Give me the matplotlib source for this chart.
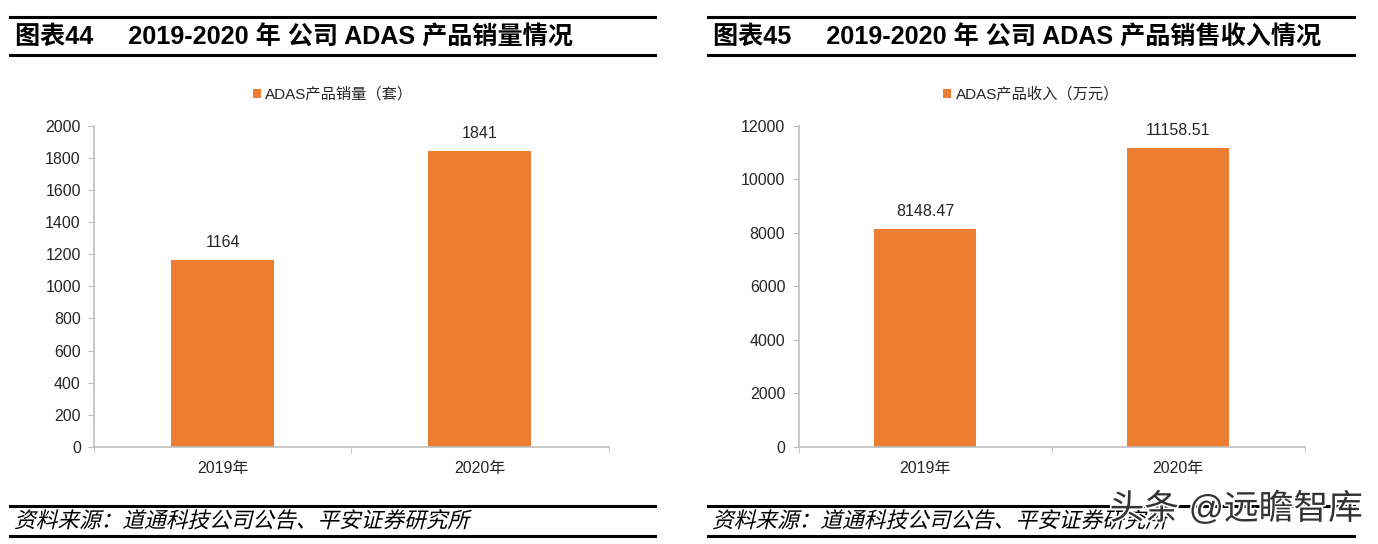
import matplotlib
matplotlib.use("Agg")
import matplotlib.pyplot as plt
import matplotlib.patheffects as pe
from matplotlib.lines import Line2D
from matplotlib.patches import Patch
from matplotlib.transforms import Affine2D

FONTS = ['Liberation Sans', 'Noto Sans CJK SC', 'DejaVu Sans']
plt.rcParams['font.family'] = FONTS

W, H = 1378, 544
ORANGE = '#ED7D31'
GREY = '#BFBFBF'
TXT = '#262626'

years = ['2019年', '2020年']
volume = [1164, 1841]
revenue = [8148.47, 11158.51]
volume_labels = ['1164', '1841']
revenue_labels = ['8148.47', '11158.51']
volume_ticks = [0, 200, 400, 600, 800, 1000, 1200, 1400, 1600, 1800, 2000]
revenue_ticks = [0, 2000, 4000, 6000, 8000, 10000, 12000]

fig = plt.figure(figsize=(W / 100, H / 100), dpi=100)


class Slant(pe.AbstractPathEffect):
    # CJK fonts have no italic, so shear the glyph outlines instead
    def draw_path(self, renderer, gc, tpath, affine, rgbFace=None):
        renderer.draw_path(gc, tpath, Affine2D().skew_deg(14, 0) + affine, rgbFace)


def hline(x0, x1, y, lw=2.2):
    fig.add_artist(Line2D([x0 / W, x1 / W], [1 - y / H, 1 - y / H], color='black', lw=lw))


def panel(left, right, rule0, rule1, title, series_name, values, labels, ticks, ymax, legend_x):
    # header and footer rules
    hline(rule0, rule1, 17)
    hline(rule0, rule1, 55)
    hline(rule0, rule1, 506)
    hline(rule0, rule1, 536)
    fig.text((rule0 + 5) / W, 1 - 37 / H, title, fontsize=18.1, fontweight='bold',
             va='center', ha='left', color='black')
    fig.text((rule0 + 4) / W, 1 - 522 / H, '资料来源：道通科技公司公告、平安证券研究所', fontsize=15.6,
             va='center', ha='left', color='black', path_effects=[Slant()])

    ax = fig.add_axes([left / W, 1 - 447 / H, (right - left) / W, (447 - 125.5) / H])
    x_pos = range(len(years))
    ax.bar(x_pos, values, width=0.4, color=ORANGE, label=series_name)
    ax.set_xlim(-0.5, 1.5)
    ax.set_ylim(0, ymax)
    ax.set_yticks(ticks)
    ax.set_xticks(x_pos)
    ax.set_xticklabels(years)
    ax.set_xticks([-0.5, 0.5, 1.5], minor=True)

    for side in ['top', 'right']:
        ax.spines[side].set_visible(False)
    for side in ['left', 'bottom']:
        ax.spines[side].set_color(GREY)
        ax.spines[side].set_linewidth(1.2)
    ax.tick_params(axis='y', length=4, color=GREY, labelsize=11.5, labelcolor=TXT, pad=5.5)
    ax.tick_params(axis='x', which='major', length=0, labelsize=11.5, labelcolor=TXT, pad=10)
    ax.tick_params(axis='x', which='minor', length=4, color=GREY)

    for i, v in enumerate(values):
        ax.annotate(labels[i], (i, v), xytext=(0, 7), textcoords='offset points',
                    ha='center', va='bottom', fontsize=11.5, color=TXT)

    ax.legend(handles=[Patch(facecolor=ORANGE, label=series_name)], loc='center',
              bbox_to_anchor=(legend_x, 1 + 31 / 321), frameon=False, fontsize=11,
              handlelength=0.5, handleheight=0.5, handletextpad=0.3, labelcolor=TXT)


panel(94, 608.5, 10, 655, '图表44     2019-2020 年 公司 ADAS 产品销量情况',
      'ADAS产品销量（套）', volume, volume_labels, volume_ticks, 2000, 0.465)
panel(798.5, 1304.5, 708, 1354, '图表45     2019-2020 年 公司 ADAS 产品销售收入情况',
      'ADAS产品收入（万元）', revenue, revenue_labels, revenue_ticks, 12000, 0.46)

# watermark over the right footer
fig.text(1363 / W, 1 - 509 / H, '头条 @远瞻智库', fontsize=25, ha='right', va='center',
         color='#333333', zorder=10,
         path_effects=[pe.withStroke(linewidth=2.5, foreground='white')])

fig.savefig('out.png', dpi=100)
